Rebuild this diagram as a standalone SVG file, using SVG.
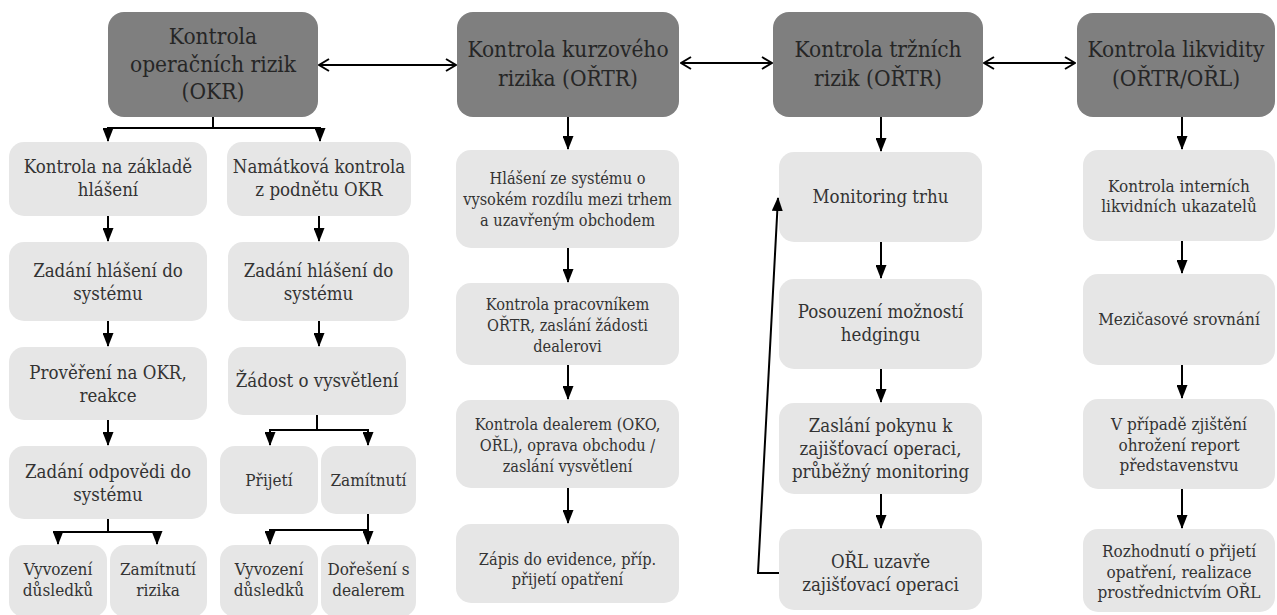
<svg xmlns="http://www.w3.org/2000/svg" width="1277" height="615" viewBox="0 0 1277 615">
  <defs>
    <style>
      text { font-family: "DejaVu Serif", serif; font-stretch: condensed; text-anchor: middle; }
      .head rect { fill: #7f7f7f; }
      .head text { fill: #262626; font-size: 22.5px; }
      .step rect { fill: #e6e6e6; }
      .step text { fill: #333333; }
      .f205 text { font-size: 18.5px; }
      .f19 text { font-size: 17px; }
      .f18 text { font-size: 16.2px; }
      .conn path { fill: none; stroke: #000; stroke-width: 2; }
      .arr { marker-end: url(#tri); }
      .both { marker-start: url(#chev); marker-end: url(#chev); }
    </style>
    <marker id="tri" viewBox="0 0 14 11" markerWidth="14" markerHeight="11" refX="13" refY="5.5" orient="auto" markerUnits="userSpaceOnUse">
      <path d="M0,0 L14,5.5 L0,11 z" fill="#000"/>
    </marker>
    <marker id="chev" viewBox="-1 -1 12 14" markerWidth="12" markerHeight="14" refX="10" refY="6" orient="auto-start-reverse" markerUnits="userSpaceOnUse">
      <path d="M0,0 L10,6 L0,12" fill="none" stroke="#000" stroke-width="2"/>
    </marker>
  </defs>

  <rect width="1277" height="615" fill="#fff"/>

  <!-- header nodes -->
  <g id="h-okr" class="head">
    <rect x="108" y="12" width="210" height="105" rx="16"/>
    <text x="213" y="44">Kontrola</text>
    <text x="213" y="72">operačních rizik</text>
    <text x="213" y="99">(OKR)</text>
  </g>
  <g id="h-kurz" class="head">
    <rect x="457" y="12" width="222" height="105" rx="16"/>
    <text x="568" y="57">Kontrola kurzového</text>
    <text x="568" y="86">rizika (OŘTR)</text>
  </g>
  <g id="h-trh" class="head">
    <rect x="773" y="12" width="210" height="105" rx="16"/>
    <text x="878" y="57">Kontrola tržních</text>
    <text x="878" y="86">rizik (OŘTR)</text>
  </g>
  <g id="h-likv" class="head">
    <rect x="1077" y="13" width="198" height="104" rx="16"/>
    <text x="1176" y="57">Kontrola likvidity</text>
    <text x="1176" y="86">(OŘTR/OŘL)</text>
  </g>

  <!-- OKR column: left branch -->
  <g id="okr-hlaseni" class="step f205">
    <rect x="9" y="142" width="198" height="74" rx="15"/>
    <text x="108" y="173">Kontrola na základě</text>
    <text x="108" y="196">hlášení</text>
  </g>
  <g id="okr-zadani1" class="step f205">
    <rect x="9" y="242" width="198" height="79" rx="15"/>
    <text x="108" y="277">Zadání hlášení do</text>
    <text x="108" y="300">systému</text>
  </g>
  <g id="okr-provereni" class="step f205">
    <rect x="9" y="347" width="198" height="73" rx="15"/>
    <text x="108" y="379">Prověření na OKR,</text>
    <text x="108" y="402">reakce</text>
  </g>
  <g id="okr-odpoved" class="step f205">
    <rect x="9" y="446" width="198" height="73" rx="15"/>
    <text x="108" y="478">Zadání odpovědi do</text>
    <text x="108" y="501">systému</text>
  </g>
  <g id="okr-vyvozeni1" class="step f19">
    <rect x="9" y="545" width="98" height="72" rx="15"/>
    <text x="58" y="575">Vyvození</text>
    <text x="58" y="596">důsledků</text>
  </g>
  <g id="okr-zamitnuti-rizika" class="step f19">
    <rect x="110" y="545" width="97" height="72" rx="15"/>
    <text x="158" y="575">Zamítnutí</text>
    <text x="158" y="596">rizika</text>
  </g>

  <!-- OKR column: right branch -->
  <g id="okr-namatkova" class="step f205">
    <rect x="227" y="142" width="184" height="74" rx="15"/>
    <text x="319" y="173">Namátková kontrola</text>
    <text x="319" y="196">z podnětu OKR</text>
  </g>
  <g id="okr-zadani2" class="step f205">
    <rect x="228" y="242" width="181" height="79" rx="15"/>
    <text x="318.5" y="277">Zadání hlášení do</text>
    <text x="318.5" y="300">systému</text>
  </g>
  <g id="okr-zadost" class="step f205">
    <rect x="228" y="347" width="178" height="68" rx="15"/>
    <text x="317" y="387">Žádost o vysvětlení</text>
  </g>
  <g id="okr-prijeti" class="step f19">
    <rect x="220" y="446" width="98" height="68" rx="15"/>
    <text x="269" y="486">Přijetí</text>
  </g>
  <g id="okr-zamitnuti" class="step f19">
    <rect x="321" y="446" width="95" height="68" rx="15"/>
    <text x="368.5" y="486">Zamítnutí</text>
  </g>
  <g id="okr-vyvozeni2" class="step f19">
    <rect x="220" y="545" width="98" height="72" rx="15"/>
    <text x="269" y="575">Vyvození</text>
    <text x="269" y="596">důsledků</text>
  </g>
  <g id="okr-doreseni" class="step f19">
    <rect x="321" y="545" width="95" height="72" rx="15"/>
    <text x="368.5" y="575">Dořešení s</text>
    <text x="368.5" y="596">dealerem</text>
  </g>

  <!-- exchange-rate risk column -->
  <g id="kurz-hlaseni" class="step f18">
    <rect x="456" y="150" width="223" height="98" rx="15"/>
    <text x="567.5" y="184">Hlášení ze systému o</text>
    <text x="567.5" y="205">vysokém rozdílu mezi trhem</text>
    <text x="567.5" y="226">a uzavřeným obchodem</text>
  </g>
  <g id="kurz-kontrola" class="step f18">
    <rect x="456" y="283" width="223" height="82" rx="15"/>
    <text x="567.5" y="310">Kontrola pracovníkem</text>
    <text x="567.5" y="331">OŘTR, zaslání žádosti</text>
    <text x="567.5" y="352">dealerovi</text>
  </g>
  <g id="kurz-dealer" class="step f18">
    <rect x="456" y="400" width="223" height="88" rx="15"/>
    <text x="567.5" y="430">Kontrola dealerem (OKO,</text>
    <text x="567.5" y="451">OŘL), oprava obchodu /</text>
    <text x="567.5" y="472">zaslání vysvětlení</text>
  </g>
  <g id="kurz-zapis" class="step f18">
    <rect x="456" y="524" width="223" height="79" rx="15"/>
    <text x="567.5" y="565">Zápis do evidence, příp.</text>
    <text x="567.5" y="585">přijetí opatření</text>
  </g>

  <!-- market risk column -->
  <g id="trh-monitoring" class="step f205">
    <rect x="779" y="152" width="203" height="90" rx="15"/>
    <text x="880.5" y="203">Monitoring trhu</text>
  </g>
  <g id="trh-posouzeni" class="step f205">
    <rect x="779" y="279" width="203" height="90" rx="15"/>
    <text x="880.5" y="318">Posouzení možností</text>
    <text x="880.5" y="341">hedgingu</text>
  </g>
  <g id="trh-pokyn" class="step f205">
    <rect x="779" y="403" width="203" height="91" rx="15"/>
    <text x="880.5" y="432">Zaslání pokynu k</text>
    <text x="880.5" y="455">zajišťovací operaci,</text>
    <text x="880.5" y="478">průběžný monitoring</text>
  </g>
  <g id="trh-orl" class="step f205">
    <rect x="779" y="529" width="203" height="81" rx="15"/>
    <text x="880.5" y="568">OŘL uzavře</text>
    <text x="880.5" y="591">zajišťovací operaci</text>
  </g>

  <!-- liquidity column -->
  <g id="likv-ukazatele" class="step f19">
    <rect x="1083" y="150" width="192" height="91" rx="15"/>
    <text x="1179" y="192">Kontrola interních</text>
    <text x="1179" y="212">likvidních ukazatelů</text>
  </g>
  <g id="likv-srovnani" class="step f19">
    <rect x="1083" y="274" width="192" height="91" rx="15"/>
    <text x="1179" y="325">Mezičasové srovnání</text>
  </g>
  <g id="likv-report" class="step f19">
    <rect x="1083" y="399" width="192" height="90" rx="15"/>
    <text x="1179" y="430">V případě zjištění</text>
    <text x="1179" y="450.5">ohrožení report</text>
    <text x="1179" y="471">představenstvu</text>
  </g>
  <g id="likv-rozhodnuti" class="step f19">
    <rect x="1083" y="529" width="192" height="83" rx="15"/>
    <text x="1179" y="557">Rozhodnutí o přijetí</text>
    <text x="1179" y="577.5">opatření, realizace</text>
    <text x="1179" y="598">prostřednictvím OŘL</text>
  </g>

  <!-- connectors -->
  <g id="connectors" class="conn">
    <!-- links between header nodes -->
    <path class="both" d="M319,65 H456"/>
    <path class="both" d="M681,63 H772"/>
    <path class="both" d="M984,63 H1075"/>

    <!-- OKR split -->
    <path d="M213,117 V128 M107,128 H321"/>
    <path class="arr" d="M108,128 V141"/>
    <path class="arr" d="M320,128 V141"/>

    <!-- OKR left branch -->
    <path class="arr" d="M108,216 V241"/>
    <path class="arr" d="M108,321 V346"/>
    <path class="arr" d="M108,420 V445"/>
    <path d="M108,519 V532 M57,532 H158"/>
    <path class="arr" d="M58,532 V544"/>
    <path class="arr" d="M157,532 V544"/>

    <!-- OKR right branch -->
    <path class="arr" d="M319,216 V241"/>
    <path class="arr" d="M319,321 V346"/>
    <path d="M317,415 V430 M269,430 H369"/>
    <path class="arr" d="M270,430 V445"/>
    <path class="arr" d="M368,430 V445"/>
    <path class="arr" d="M368,514 V544"/>
    <path class="arr" d="M368,530 H270 V544"/>

    <!-- exchange-rate risk chain -->
    <path class="arr" d="M568,117 V149"/>
    <path class="arr" d="M568,248 V282"/>
    <path class="arr" d="M568,365 V399"/>
    <path class="arr" d="M568,488 V523"/>

    <!-- market risk chain -->
    <path class="arr" d="M881,117 V151"/>
    <path class="arr" d="M881,242 V278"/>
    <path class="arr" d="M881,369 V402"/>
    <path class="arr" d="M881,494 V528"/>
    <path class="arr" d="M779,573 H758 L778,198"/>

    <!-- liquidity chain -->
    <path class="arr" d="M1182,117 V149"/>
    <path class="arr" d="M1182,241 V273"/>
    <path class="arr" d="M1182,365 V398"/>
    <path class="arr" d="M1182,489 V528"/>
  </g>
</svg>
